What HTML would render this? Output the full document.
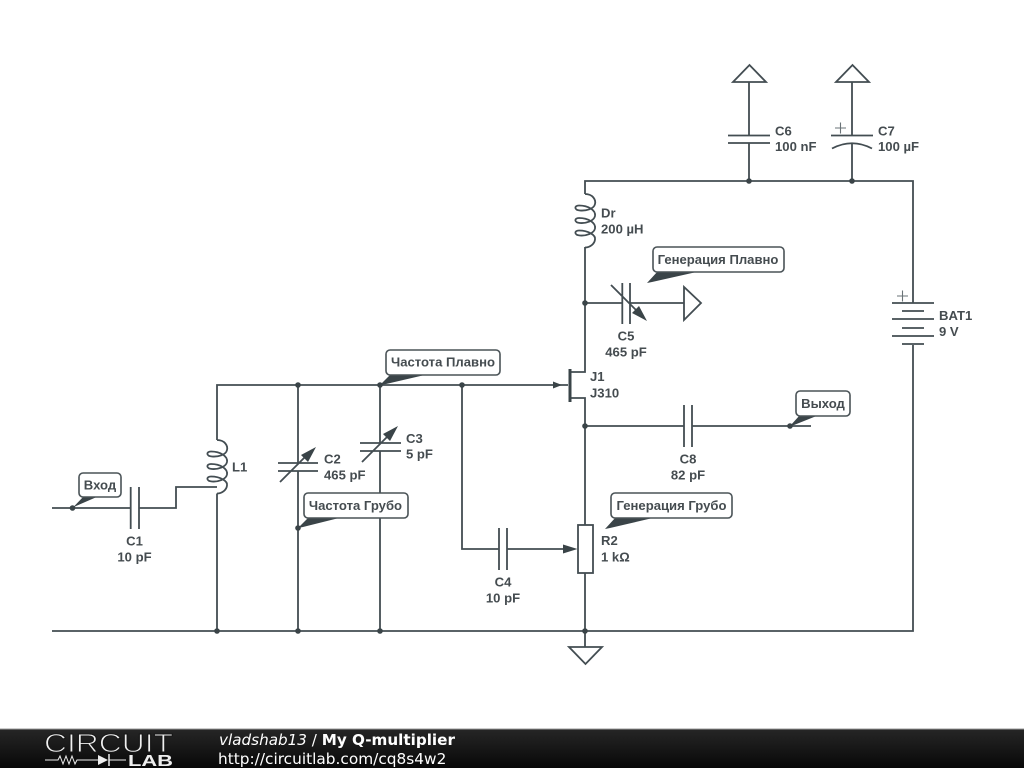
<!DOCTYPE html>
<html><head><meta charset="utf-8"><style>
html,body{margin:0;padding:0;background:#fff;width:1024px;height:768px;overflow:hidden}
svg{display:block;filter:blur(0.35px)}
.w{fill:none;stroke:#434d52;stroke-width:1.8}
.t{font-family:"Liberation Sans",sans-serif;font-size:13.1px;font-weight:bold;fill:#454c50}
.c{text-anchor:middle}
.d{fill:#3a4448}
.l{fill:#fff;stroke:#4a5357;stroke-width:1.6}
.h{fill:#3a4448;stroke:none}
</style></head><body>
<svg width="1024" height="768" viewBox="0 0 1024 768" xmlns="http://www.w3.org/2000/svg">
<defs>
<linearGradient id="g" x1="0" y1="0" x2="0" y2="1"><stop offset="0" stop-color="#262626"/><stop offset="1" stop-color="#080808"/></linearGradient>
</defs>
<rect width="1024" height="768" fill="#fff"/>
<path class="w" d="M52 631H913V345M913 303V181H585V194M585 247V372H570M570 398H585V525M585 573V647"/>
<path class="w" d="M217 631V493.5M217 440V385H568"/>
<path class="w" d="M217 487H176V508H139M130.5 508H52"/>
<path id="coil" class="w" d="M217 440C225 440 228 446 227 450C226 455 218 457 212 456.5C206 456 206 451.5 211 451.5C220 451.5 228 456 227 462C226 467 218 469.5 212 469C206 468.5 206 464 211 464C220 464 228 468.5 227 474.5C226 479.5 218 482 212 481.5C206 481 206 476.5 211 476.5C220 476.5 228 481 227 485.5C226.500 490 222 493.500 217 493.500"/>
<path class="w" transform="translate(368,-246)" d="M217 440C225 440 228 446 227 450C226 455 218 457 212 456.5C206 456 206 451.5 211 451.5C220 451.5 228 456 227 462C226 467 218 469.5 212 469C206 468.5 206 464 211 464C220 464 228 468.5 227 474.5C226 479.5 218 482 212 481.5C206 481 206 476.5 211 476.5C220 476.5 228 481 227 485.5C226.500 490 222 493.500 217 493.500"/>
<path class="w" d="M130.700 487V529M139 487V529"/>
<path class="w" d="M298 385V463M298 471V631M278 463H318M278 471H318M280 482L312 450"/>
<path class="h" d="M316 447L301 455L308 462Z"/>
<path class="w" d="M380 385V443M380 451V631M360 443H401M360 451H401M362 462L394 430"/>
<path class="h" d="M398 426L383 434L390 441Z"/>
<path class="w" d="M462 385V549H499M507 549H566M499 528V570M507 528V570"/>
<path class="h" d="M577.500 549L563 544.500V553.500Z"/>
<path class="h" d="M562 385L553 381.500V388.500Z"/>
<path d="M570 369V402" fill="none" stroke="#3a4448" stroke-width="3"/>
<rect class="w" x="578" y="525" width="15" height="48" fill="#fff" style="fill:#fff"/>
<path class="w" d="M585 303H622M630 303H684M622.300 283V324M630 283V324M611 285L642 316"/>
<path class="h" d="M647 321L639 306L632 313Z"/>
<path class="w" d="M684 287V320L701 303Z" style="stroke-linejoin:miter"/>
<path class="w" d="M585 426H684M692 426H811M684 405V447M692 405V447"/>
<path class="w" d="M749 181V143M749 135.500V82M728 135.500H770M728 143H770M733 82H766L749.500 65Z"/>
<path class="w" d="M852 181V143.500M852 135.500V82M831 135.500H873M832 148.500Q852 138 872 148.500M836 82H869L852.500 65Z"/>
<path d="M835 128H846M840.500 122.500V133.500M897 296H908M902.500 290.500V301.500" fill="none" stroke="#6a7377" stroke-width="1.1"/>
<path class="w" d="M892 303H934M902 311H924M892 319H934M902 328H924M892 336H934M902 344H924"/>
<path class="w" d="M569 647H602L585.500 664Z"/>
<g class="d">
<circle cx="72.500" cy="508" r="2.800"/><circle cx="217" cy="631" r="2.800"/><circle cx="298" cy="385" r="2.800"/><circle cx="298" cy="631" r="2.800"/><circle cx="298" cy="528" r="2.800"/><circle cx="380" cy="385" r="2.800"/><circle cx="380" cy="631" r="2.800"/><circle cx="462" cy="385" r="2.800"/><circle cx="585" cy="303" r="2.800"/><circle cx="585" cy="426" r="2.800"/><circle cx="585" cy="631" r="2.800"/><circle cx="749" cy="181" r="2.800"/><circle cx="852" cy="181" r="2.800"/><circle cx="790" cy="426" r="2.800"/>
</g>
<path class="h" d="M72.500 508L84 496H99L76 506Z"/>
<rect class="l" x="79" y="473" width="42" height="24" rx="4"/>
<text class="t c" x="100" y="489.500">Вход</text>
<path class="h" d="M380 385L391 374H429L386 384Z"/>
<rect class="l" x="386" y="350" width="114" height="25" rx="4"/>
<text class="t c" x="443" y="366.500">Частота Плавно</text>
<path class="h" d="M298 528L309 517H343L303 527Z"/>
<rect class="l" x="304" y="493" width="104" height="25" rx="4"/>
<text class="t c" x="355.500" y="510">Частота Грубо</text>
<path class="h" d="M647 283L658 271H701L652 282Z"/>
<rect class="l" x="653" y="247" width="131" height="25" rx="4"/>
<text class="t c" x="718" y="264">Генерация Плавно</text>
<path class="h" d="M605 529L616 517H657L610 528Z"/>
<rect class="l" x="611" y="493" width="121" height="25" rx="4"/>
<text class="t c" x="671.500" y="510">Генерация Грубо</text>
<path class="h" d="M790 426L800 415H819L794 425Z"/>
<rect class="l" x="796" y="391" width="54" height="25" rx="4"/>
<text class="t c" x="823" y="408">Выход</text>
<text class="t c" x="134.500" y="545.500">C1</text><text class="t c" x="134.500" y="561.500">10 pF</text>
<text class="t" x="232" y="471.500">L1</text>
<text class="t" x="324" y="463.500">C2</text><text class="t" x="324" y="479.500">465 pF</text>
<text class="t" x="406" y="443">C3</text><text class="t" x="406" y="458.500">5 pF</text>
<text class="t c" x="503" y="586.500">C4</text><text class="t c" x="503" y="602.500">10 pF</text>
<text class="t" x="601" y="217.500">Dr</text><text class="t" x="601" y="233.500">200 µH</text>
<text class="t c" x="626" y="340.500">C5</text><text class="t c" x="626" y="356.500">465 pF</text>
<text class="t" x="590" y="381">J1</text><text class="t" x="590" y="397.500">J310</text>
<text class="t c" x="688" y="463.500">C8</text><text class="t c" x="688" y="479.500">82 pF</text>
<text class="t" x="601" y="545">R2</text><text class="t" x="601" y="561.500">1 kΩ</text>
<text class="t" x="775" y="135.500">C6</text><text class="t" x="775" y="151">100 nF</text>
<text class="t" x="878" y="135.500">C7</text><text class="t" x="878" y="151">100 µF</text>
<text class="t" x="939" y="320">BAT1</text><text class="t" x="939" y="336">9 V</text>
<rect x="0" y="729" width="1024" height="39" fill="url(#g)"/>
<rect x="0" y="728.500" width="1024" height="1" fill="#9a9a9a"/>
<text x="44" y="752" font-family="'Liberation Sans',sans-serif" font-size="26" textLength="129" lengthAdjust="spacingAndGlyphs" fill="#f0f0f0" stroke="#181818" stroke-width="1">CIRCUIT</text>
<path d="M45 760H58L60 756L63 764L66 756L69 764L72 756L75 764L77 760H98M109 760H126" fill="none" stroke="#eee" stroke-width="1"/>
<path d="M98 755L108 760L98 765Z" fill="#eee"/><path d="M109 754V766" stroke="#eee" stroke-width="1.500"/>
<text x="128" y="766" font-family="'Liberation Sans',sans-serif" font-size="15.500" font-weight="bold" textLength="45" lengthAdjust="spacingAndGlyphs" fill="#eee">LAB</text>
<text x="219" y="745" font-family="'DejaVu Sans',sans-serif" font-size="15.200" fill="#fff"><tspan font-style="italic">vladshab13</tspan> / <tspan font-weight="bold">My Q-multiplier</tspan></text>
<text x="218" y="764" font-family="'DejaVu Sans',sans-serif" font-size="15.350" fill="#fff">http://circuitlab.com/cq8s4w2</text>
</svg>
</body></html>
